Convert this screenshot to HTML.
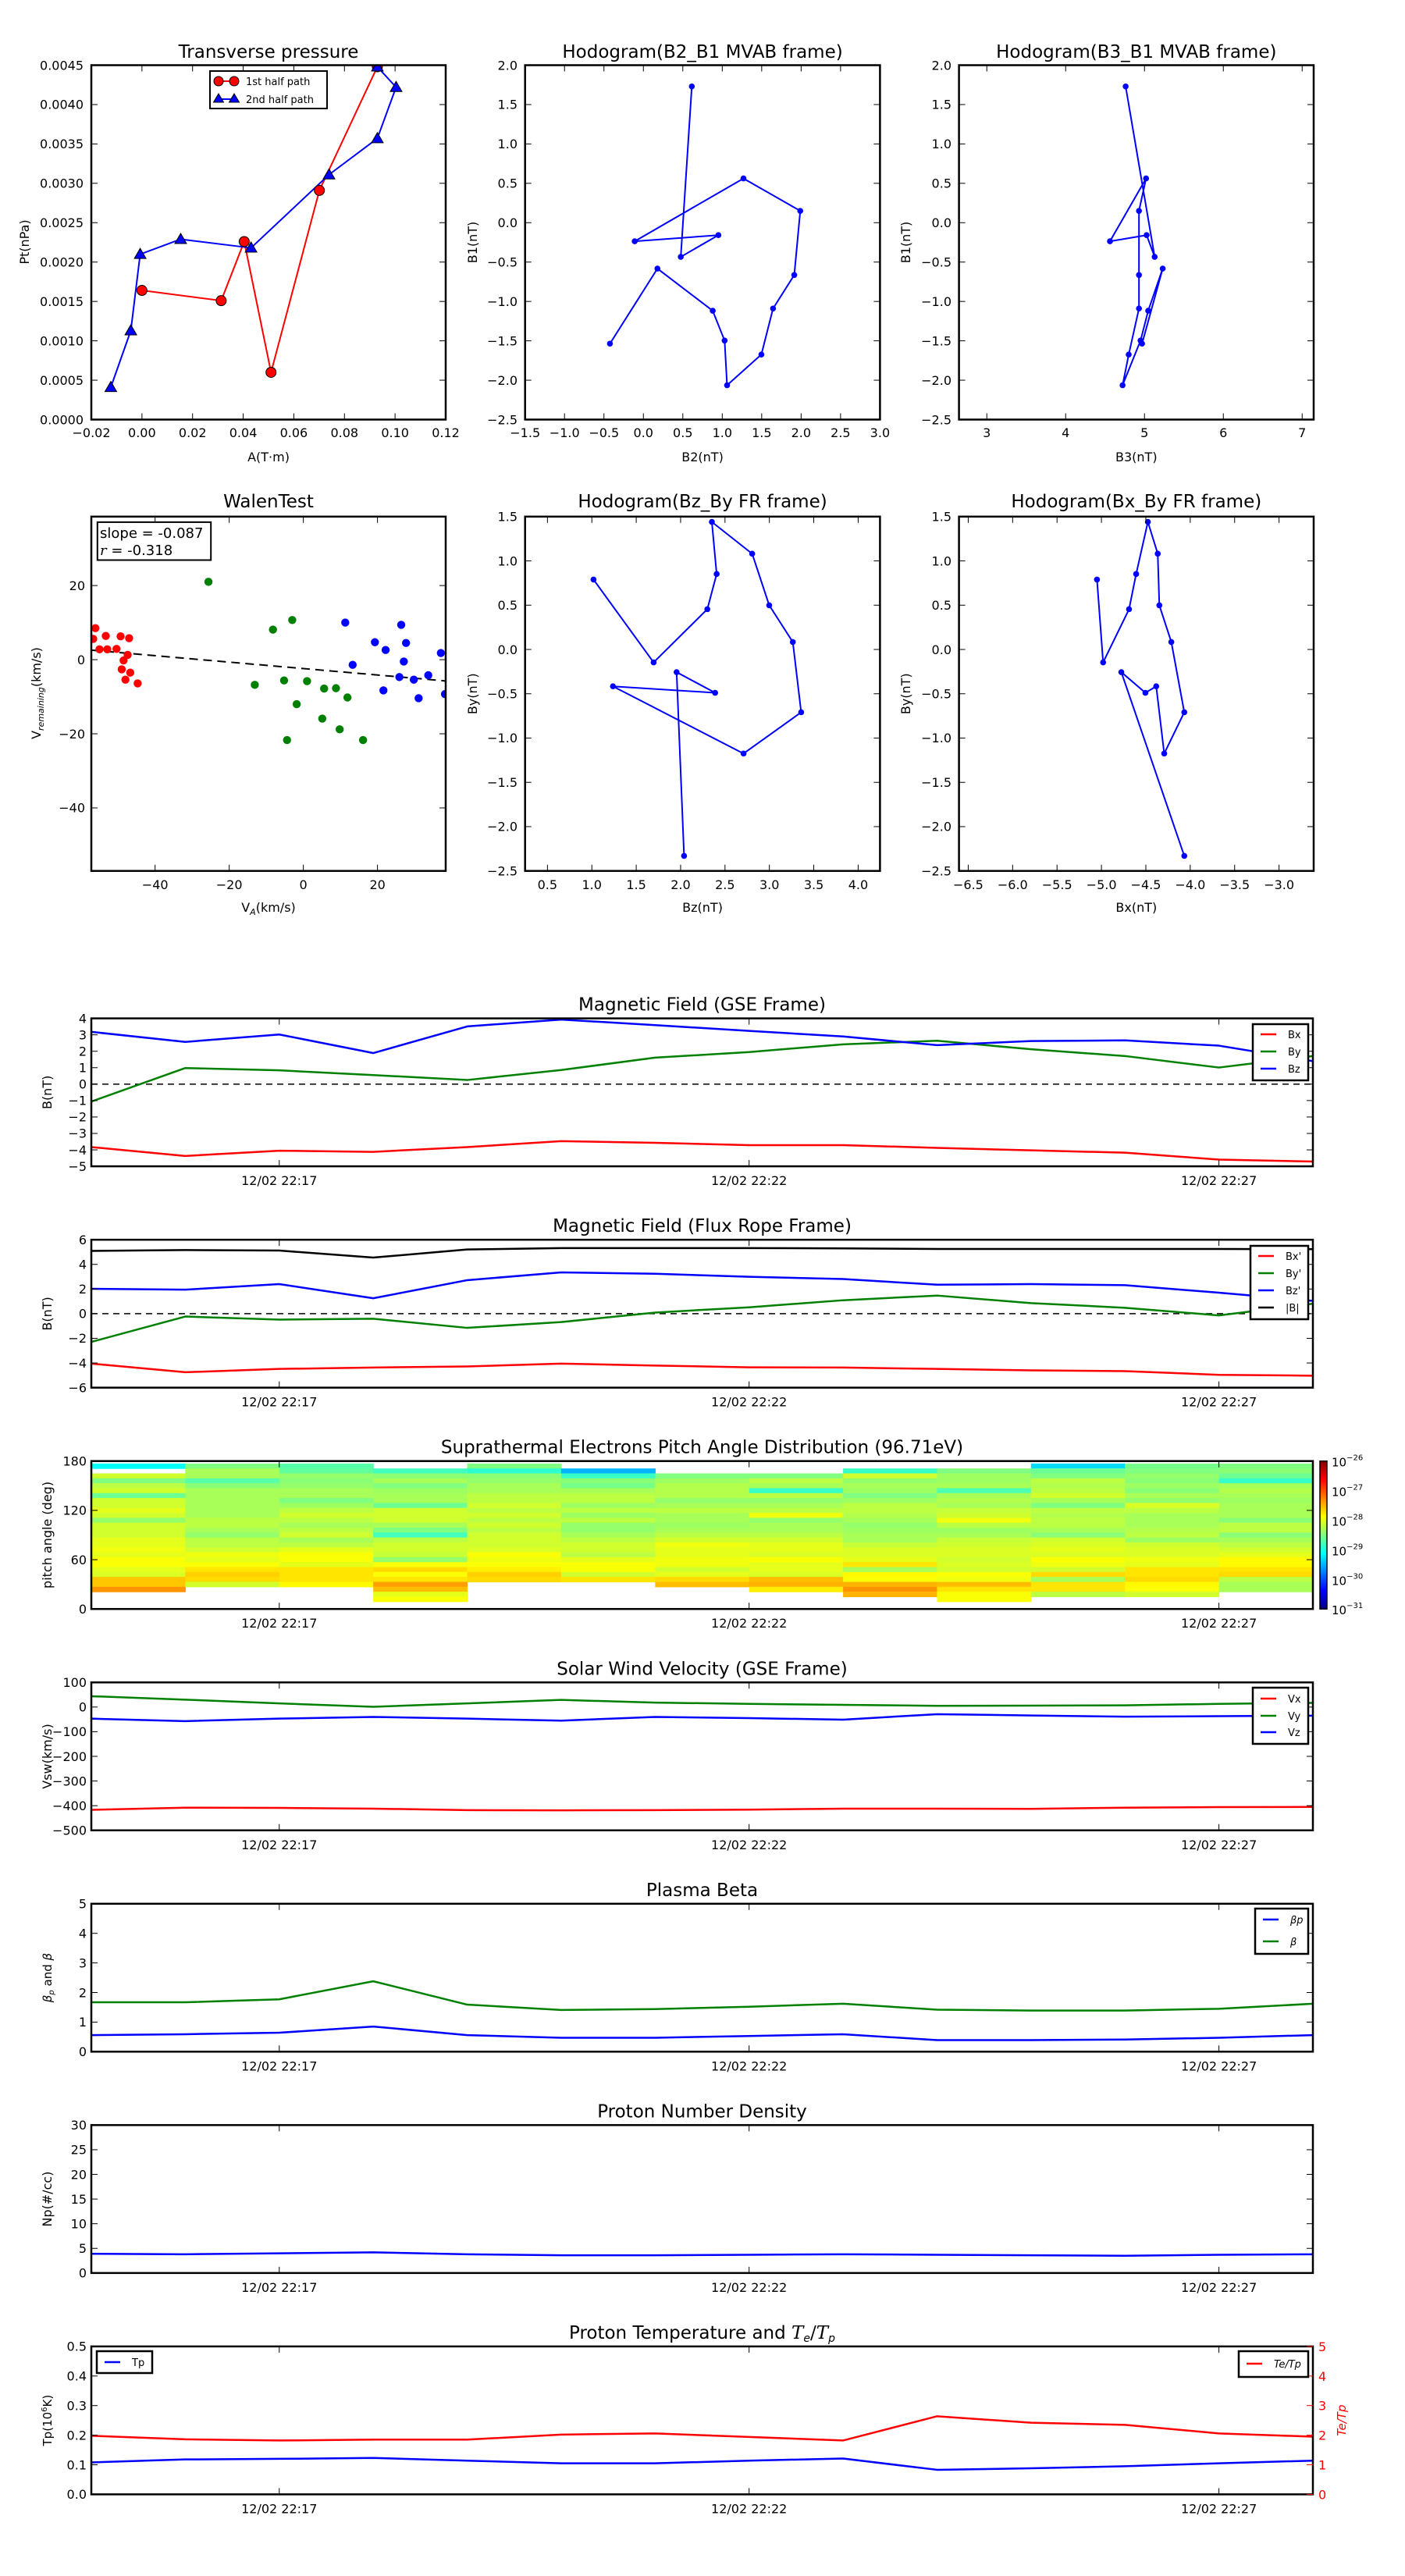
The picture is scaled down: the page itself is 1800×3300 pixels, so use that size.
<!DOCTYPE html>
<html><head><meta charset="utf-8"><title>Flux rope analysis</title>
<style>
html,body{margin:0;padding:0;background:#fff;}
svg{display:block;font-family:"DejaVu Sans","Liberation Sans",sans-serif;}
</style></head>
<body>
<svg id="fig" xmlns="http://www.w3.org/2000/svg" width="1800" height="3300" viewBox="0 0 1800 3300">
<defs>
<linearGradient id="jetgrad" x1="0" y1="1" x2="0" y2="0">
<stop offset="0" stop-color="#000080"/><stop offset="0.125" stop-color="#0000ff"/>
<stop offset="0.375" stop-color="#00ffff"/><stop offset="0.625" stop-color="#ffff00"/>
<stop offset="0.875" stop-color="#ff0000"/><stop offset="1" stop-color="#800000"/>
</linearGradient>
</defs>
</svg>
<script>
// ---------- Transverse pressure ----------
const tp1A=[0.0,0.0313,0.0404,0.051,0.0701,0.093];
const tp1P=[0.00164,0.00151,0.00226,0.0006,0.00291,0.00448];
const tp2A=[0.093,0.1004,0.093,0.0739,0.0431,0.0153,-0.0007,-0.0044,-0.0123];
const tp2P=[0.00448,0.00422,0.00357,0.00311,0.00218,0.00229,0.0021,0.00113,0.00041];
const tpXTicks=[-0.02,0,0.02,0.04,0.06,0.08,0.10,0.12];
const tpXLabels=["\u22120.02","0.00","0.02","0.04","0.06","0.08","0.10","0.12"];
const tpYTicks=[0,0.0005,0.001,0.0015,0.002,0.0025,0.003,0.0035,0.004,0.0045];
const tpYLabels=["0.0000","0.0005","0.0010","0.0015","0.0020","0.0025","0.0030","0.0035","0.0040","0.0045"];
// ---------- MVAB hodograms ----------
const mvB1=[1.73,-0.434,-0.158,-0.236,0.562,0.150,-0.664,-1.09,-1.674,-2.064,-1.497,-1.118,-0.583,-1.536];
const mvB2=[0.614,0.474,0.951,-0.110,1.269,1.989,1.913,1.644,1.496,1.061,1.030,0.879,0.178,-0.424];
const mvB3=[4.761,5.129,5.027,4.562,5.020,4.930,4.930,4.930,4.800,4.722,4.950,5.047,5.231,4.969];
// ---------- Walen test ----------
const walRedX=[-56.1,-56.7,-53.3,-55.0,-52.9,-50.4,-49.3,-47.0,-47.4,-48.5,-49.0,-46.7,-48.0,-44.7];
const walRedY=[8.5,5.6,6.4,2.8,2.8,2.9,6.3,5.8,1.3,-0.2,-2.6,-3.5,-5.4,-6.4];
const walGreenX=[-25.6,-8.2,-3.0,-13.1,-5.2,1.0,5.6,8.8,-1.8,11.9,5.1,9.8,-4.4,16.1];
const walGreenY=[21.0,8.1,10.7,-6.8,-5.6,-5.8,-7.8,-7.7,-12.0,-10.2,-15.9,-18.8,-21.7,-21.7];
const walBlueX=[11.3,13.3,19.3,22.2,21.6,26.4,27.7,27.1,25.9,29.8,31.1,33.7,37.1,38.2];
const walBlueY=[10.0,-1.4,4.7,2.6,-8.3,9.4,4.5,-0.5,-4.7,-5.4,-10.4,-4.2,1.8,-9.3];
const walSlope=-0.087;
const walIntercept=-2.4;
// ---------- FR hodograms ----------
const frBy=[0.789,-0.146,0.455,0.852,1.44,1.081,0.499,0.084,-0.709,-1.175,-0.416,-0.489,-0.256,-2.33];
const frBz=[1.019,1.696,2.301,2.406,2.352,2.806,2.998,3.264,3.358,2.709,1.238,2.389,1.955,2.039];
const frBx=[-5.05,-4.981,-4.689,-4.609,-4.477,-4.366,-4.348,-4.213,-4.067,-4.293,-4.383,-4.505,-4.776,-4.067];
// ---------- time series (minutes after 22:15) ----------
const tMin=[0,1,2,3,4,5,6,7,8,9,10,11,12,13];
const timeTickMin=[2,7,12];
const timeTickLabels=["12/02 22:17","12/02 22:22","12/02 22:27"];
const gseBx=[-3.83,-4.37,-4.05,-4.12,-3.83,-3.47,-3.57,-3.71,-3.71,-3.88,-4.03,-4.17,-4.59,-4.71];
const gseBy=[-1.06,0.98,0.84,0.55,0.25,0.86,1.61,1.95,2.42,2.64,2.12,1.71,1.01,1.71];
const gseBz=[3.18,2.57,3.02,1.89,3.51,3.93,3.59,3.24,2.90,2.37,2.62,2.66,2.34,1.40];
const frsBx=[-4.05,-4.75,-4.48,-4.37,-4.28,-4.05,-4.21,-4.35,-4.37,-4.48,-4.60,-4.66,-4.96,-5.03];
const frsBy=[-2.29,-0.23,-0.48,-0.41,-1.15,-0.68,0.09,0.52,1.09,1.47,0.86,0.48,-0.14,0.81];
const frsBz=[2.02,1.95,2.40,1.25,2.72,3.35,3.24,2.99,2.81,2.35,2.40,2.31,1.70,1.04];
const frsBt=[5.09,5.16,5.12,4.55,5.21,5.32,5.32,5.32,5.30,5.25,5.25,5.25,5.25,5.23];
const padPitch=[174,168,162,156,150,144,138,132,126,120,114,108,102,96,90,84,78,72,66,60,54,48,42,36,30,24,18,12];
const padLog=[
[-29.1,null,-28.1,-28.5,-28.2,-28.1,-28.6,-28.1,-28.1,-28.0,-28.1,-28.4,-28.1,-28.1,-28.1,-28.0,-28.0,-27.95,-28.0,-27.9,-27.9,-28.0,-28.05,-27.6,-27.6,-27.35,null,null],
[-28.5,-28.3,-28.3,-28.7,-28.45,-28.3,-28.3,-28.3,-28.3,-28.3,-28.3,-28.2,-28.2,-28.3,-28.4,-28.2,-28.2,-28.1,-27.95,-28.0,-27.9,-27.75,-27.65,-27.7,-28.1,null,null,null],
[-28.7,-28.65,-28.4,-28.45,-28.4,-28.3,-28.3,-28.5,-28.35,-28.2,-28.1,-28.2,-28.3,-28.2,-28.1,-28.3,-28.2,-28.0,-27.9,-27.9,-28.0,-27.75,-27.75,-27.75,-27.85,null,null,null],
[null,-28.8,-28.45,-28.3,-28.5,-28.35,-28.3,-28.3,-28.6,-28.1,-28.1,-28.1,-28.3,-28.5,-28.8,-28.2,-28.1,-28.1,-28.15,-28.4,-27.9,-27.7,-27.9,-27.75,-27.4,-27.55,-28.0,-27.9],
[-28.5,-28.9,-28.45,-28.4,-28.3,-28.3,-28.2,-28.2,-28.1,-28.2,-28.1,-28.2,-28.1,-28.2,-28.1,-28.1,-28.1,-28.05,-27.9,-27.95,-27.9,-27.8,-27.65,-27.7,null,null,null,null],
[null,-29.5,-28.85,-28.45,-28.55,-28.3,-28.2,-28.2,-28.35,-28.2,-28.35,-28.2,-28.4,-28.4,-28.3,-28.2,-28.1,-28.1,-28.2,-28.0,-27.9,-27.9,-28.1,-27.75,null,null,null,null],
[null,null,-28.5,-28.35,-28.25,-28.25,-28.25,-28.4,-28.3,-28.2,-28.3,-28.3,-28.35,-28.3,-28.2,-28.1,-27.95,-28.0,-28.0,-27.95,-27.95,-28.1,-28.0,-27.7,-27.55,null,null,null],
[null,null,-28.5,-28.2,-28.3,-28.85,-28.2,-28.4,-28.3,-28.2,-27.95,-28.4,-28.3,-28.3,-28.2,-28.1,-28.0,-28.0,-28.05,-27.9,-28.0,-28.0,-28.05,-27.55,-27.5,-27.8,null,null],
[null,-28.85,-28.1,-28.4,-28.3,-28.35,-28.5,-28.35,-28.2,-28.2,-28.25,-28.3,-28.4,-28.35,-28.3,-28.3,-28.15,-28.05,-28.05,-28.0,-27.75,-28.3,-27.85,-27.9,-27.5,-27.35,-27.5,null],
[null,-28.5,-28.35,-28.35,-28.3,-28.75,-28.3,-28.25,-28.3,-28.15,-28.1,-27.95,-28.2,-28.35,-28.3,-28.15,-28.1,-28.05,-28.05,-28.1,-28.05,-28.1,-27.9,-27.95,-27.55,-27.75,-27.9,-27.9],
[-29.3,-28.6,-28.5,-28.2,-28.25,-28.2,-28.1,-28.3,-28.5,-28.2,-28.25,-28.2,-28.2,-28.3,-28.45,-28.1,-28.05,-28.0,-28.05,-27.9,-27.95,-28.1,-27.7,-28.3,-27.75,-27.75,-28.2,null],
[-28.55,-28.5,-28.4,-28.45,-28.35,-28.45,-28.3,-28.4,-28.05,-28.2,-28.3,-28.3,-28.3,-28.25,-28.2,-28.35,-28.1,-28.05,-28.05,-27.95,-28.0,-27.75,-27.75,-27.7,-27.85,-27.9,-28.1,null],
[-28.5,-28.45,-28.6,-28.85,-28.3,-28.25,-28.3,-28.35,-28.3,-28.3,-28.3,-28.45,-28.2,-28.2,-28.45,-28.3,-28.2,-28.1,-28.0,-27.85,-27.85,-27.75,-27.7,-28.2,-28.3,-28.3,null,null]
];
const padCbarExp=["-26","-27","-28","-29","-30","-31"];
const vswVx=[-417,-408,-409,-412,-418,-419,-418,-416,-412,-412,-413,-408,-406,-405];
const vswVy=[44,30,15,1,15,29,18,13,9,5,6,7,13,17];
const vswVz=[-47,-57,-47,-40,-47,-55,-40,-45,-51,-29,-34,-39,-37,-35];
const betaP=[0.56,0.59,0.64,0.85,0.56,0.47,0.47,0.53,0.59,0.39,0.39,0.41,0.47,0.56];
const betaT=[1.67,1.67,1.77,2.38,1.59,1.41,1.44,1.52,1.62,1.42,1.39,1.39,1.45,1.62];
const npDens=[3.9,3.8,4.0,4.2,3.8,3.6,3.6,3.7,3.8,3.7,3.6,3.5,3.7,3.8];
const tpTemp=[0.108,0.118,0.120,0.123,0.114,0.105,0.105,0.114,0.121,0.083,0.088,0.095,0.105,0.114];
const teTp=[1.98,1.86,1.82,1.85,1.85,2.02,2.06,1.94,1.82,2.64,2.42,2.35,2.06,1.95];

const NS="http://www.w3.org/2000/svg";
const svg=document.getElementById("fig");
function mk(parent,tag,attrs,name,inter){
  const e=document.createElementNS(NS,tag);
  for(const k in attrs) e.setAttribute(k,attrs[k]);
  
  
  parent.appendChild(e);return e;
}
function lin(d0,d1,p0,p1){return v=>p0+(v-d0)/(d1-d0)*(p1-p0);}
function tx(parent,x,y,str,size,anchor,name,extra){
  const a={x:x,y:y,"font-size":size,"text-anchor":anchor||"middle",fill:"#000"};
  if(extra) for(const k in extra) a[k]=extra[k];
  const t=mk(parent,"text",a,name,false);t.textContent=str;return t;
}
let clipN=0;
function axes(name,x0,x1,y0,y1,xd,yd){
  const g=mk(svg,"g",{},name,false);
  const id="clip"+(clipN++);
  const cp=mk(svg.querySelector("defs"),"clipPath",{id:id},name+"-clip",false);
  mk(cp,"rect",{x:x0,y:y0,width:x1-x0,height:y1-y0},name+"-clip-rect",false);
  const plot=mk(g,"g",{"clip-path":"url(#"+id+")"},name+"-plot-area",false);
  return {g:g,plot:plot,x0:x0,x1:x1,y0:y0,y1:y1,sx:lin(xd[0],xd[1],x0,x1),sy:lin(yd[0],yd[1],y1,y0)};
}
function frame(A,name){mk(A.g,"rect",{x:A.x0,y:A.y0,width:A.x1-A.x0,height:A.y1-A.y0,fill:"none",stroke:"#000","stroke-width":2.5},name,false);}
function xticks(A,vals,labels,ly,size,name){
  vals.forEach((v,i)=>{const p=A.sx(v);
    mk(A.g,"line",{x1:p,y1:A.y1,x2:p,y2:A.y1-8,stroke:"#000","stroke-width":1},name+"-tick",false);
    mk(A.g,"line",{x1:p,y1:A.y0,x2:p,y2:A.y0+8,stroke:"#000","stroke-width":1},name+"-tick-top",false);
    if(labels) tx(A.g,p,ly,labels[i],size,"middle",name+"-label");});
}
function yticks(A,vals,labels,lx,size,name,right){
  vals.forEach((v,i)=>{const p=A.sy(v);
    mk(A.g,"line",{x1:A.x0,y1:p,x2:A.x0+8,y2:p,stroke:"#000","stroke-width":1},name+"-tick",false);
    if(!right) mk(A.g,"line",{x1:A.x1,y1:p,x2:A.x1-8,y2:p,stroke:"#000","stroke-width":1},name+"-tick-right",false);
    if(labels) tx(A.g,lx,p+size*0.36,labels[i],size,"end",name+"-label");});
}
function path(A,xs,ys,color,w,name,dash){
  const d=xs.map((x,i)=>(i?"L":"M")+A.sx(x).toFixed(2)+","+A.sy(ys[i]).toFixed(2)).join(" ");
  const a={d:d,fill:"none",stroke:color,"stroke-width":w,"stroke-linejoin":"round"};
  if(dash) a["stroke-dasharray"]=dash;
  return mk(A.plot,"path",a,name,false);
}
function dots(A,xs,ys,color,r,name,stroke){
  xs.forEach((x,i)=>{const a={cx:A.sx(x),cy:A.sy(ys[i]),r:r,fill:color};
    if(stroke){a.stroke=stroke;a["stroke-width"]=1;}
    mk(A.plot,"circle",a,name,false);});
}
function ylab(parent,x,y,str,size,name,fill){
  return tx(parent,0,0,str,size,"middle",name,{transform:"translate("+x+","+y+") rotate(-90)",fill:fill||"#000"});
}
const lab=n=>n.toFixed(1).replace("-","\u2212");
const seq=(a,b,s)=>{const r=[];for(let v=a;v<=b+1e-9;v+=s)r.push(+v.toFixed(6));return r;};

// ===== Panel 1: Transverse pressure =====
(function(){
  const A=axes("transverse-pressure-chart",117,571,83.5,537.5,[-0.02,0.12],[0,0.0045]);
  tx(svg,344,74,"Transverse pressure",23,"middle","transverse-pressure-title");
  path(A,tp1A,tp1P,"#ff0000",2,"first-half-path-line");
  path(A,tp2A,tp2P,"#0000ff",2,"second-half-path-line");
  dots(A,tp1A,tp1P,"#ff0000",6.5,"first-half-marker","#000");
  tp2A.forEach((x,i)=>{const px=A.sx(x),py=A.sy(tp2P[i]);
    mk(A.plot,"path",{d:`M${px},${py-7.5} L${px+7.5},${py+5.5} L${px-7.5},${py+5.5} Z`,fill:"#0000ff",stroke:"#000","stroke-width":1},"second-half-marker",false);});
  frame(A,"transverse-pressure-frame");
  xticks(A,tpXTicks,tpXLabels,560,16,"x-tick");
  yticks(A,tpYTicks,tpYLabels,107,16,"y-tick");
  tx(svg,344,591,"A(T\u00b7m)",16,"middle","x-axis-title");
  ylab(svg,37,310,"Pt(nPa)",16,"y-axis-title");
  const L=mk(svg,"g",{},"transverse-pressure-legend",false);
  mk(L,"rect",{x:269,y:91,width:150,height:48,fill:"#fff",stroke:"#000","stroke-width":2},"legend-box",false);
  mk(L,"line",{x1:280,y1:104,x2:300,y2:104,stroke:"#ff0000","stroke-width":2},"legend-line-1st",false);
  mk(L,"circle",{cx:280,cy:104,r:6,fill:"#ff0000",stroke:"#000","stroke-width":1},"legend-marker-1st",false);
  mk(L,"circle",{cx:300,cy:104,r:6,fill:"#ff0000",stroke:"#000","stroke-width":1},"legend-marker-1st",false);
  tx(L,315,109,"1st half path",13,"start","legend-label-1st");
  mk(L,"line",{x1:280,y1:127,x2:300,y2:127,stroke:"#0000ff","stroke-width":2},"legend-line-2nd",false);
  mk(L,"path",{d:"M280,120 L286.5,131 L273.5,131 Z",fill:"#0000ff",stroke:"#000","stroke-width":1},"legend-marker-2nd",false);
  mk(L,"path",{d:"M300,120 L306.5,131 L293.5,131 Z",fill:"#0000ff",stroke:"#000","stroke-width":1},"legend-marker-2nd",false);
  tx(L,315,132,"2nd half path",13,"start","legend-label-2nd");
})();

// ===== Hodogram helper =====
function hodo(name,title,x0,x1,y0,y1,xd,yd,xs,ys,xt,yt,xl,yl,titleY,xlY,tickY,ylX,ytX){
  const A=axes(name,x0,x1,y0,y1,xd,yd);
  tx(svg,(x0+x1)/2,titleY,title,23,"middle",name+"-title");
  path(A,xs,ys,"#0000ff",2,name+"-path");
  dots(A,xs,ys,"#0000ff",3.8,name+"-point");
  frame(A,name+"-frame");
  xticks(A,xt,xt.map(v=>Number.isInteger(v)&&xd[1]-xd[0]>4.4&&xt[1]-xt[0]===1?String(v):lab(v)),tickY,16,name+"-x-tick");
  yticks(A,yt,yt.map(lab),ytX,16,name+"-y-tick");
  tx(svg,(x0+x1)/2,xlY,xl,16,"middle",name+"-x-axis-title");
  ylab(svg,ylX,(y0+y1)/2,yl,16,name+"-y-axis-title");
}
hodo("hodogram-b2-b1","Hodogram(B2_B1 MVAB frame)",672.7,1127.4,83.5,537.5,[-1.5,3],[-2.5,2],mvB2,mvB1,seq(-1.5,3,0.5),seq(-2.5,2,0.5),"B2(nT)","B1(nT)",74,591,560,611,663);
hodo("hodogram-b3-b1","Hodogram(B3_B1 MVAB frame)",1228.6,1683,83.5,537.5,[2.647,7.146],[-2.5,2],mvB3,mvB1,[3,4,5,6,7],seq(-2.5,2,0.5),"B3(nT)","B1(nT)",74,591,560,1166,1219);
hodo("hodogram-bz-by","Hodogram(Bz_By FR frame)",672.7,1127.4,661.8,1115.7,[0.248,4.246],[-2.5,1.5],frBz,frBy,seq(0.5,4,0.5),seq(-2.5,1.5,0.5),"Bz(nT)","By(nT)",650,1168,1139,611,663);
hodo("hodogram-bx-by","Hodogram(Bx_By FR frame)",1228.6,1683,661.8,1115.7,[-6.604,-2.61],[-2.5,1.5],frBx,frBy,seq(-6.5,-3,0.5),seq(-2.5,1.5,0.5),"Bx(nT)","By(nT)",650,1168,1139,1166,1219);

// ===== Walen test =====
(function(){
  const A=axes("walen-test-chart",117,571,661.8,1115.7,[-57.2,38.4],[-57,38.6]);
  tx(svg,344,650,"WalenTest",23,"middle","walen-test-title");
  const lx=[-57.2,38.4];
  path(A,lx,lx.map(v=>walSlope*v+walIntercept),"#000",2,"walen-fit-line","11,7");
  dots(A,walRedX,walRedY,"#ff0000",5.2,"walen-point-red");
  dots(A,walGreenX,walGreenY,"#008000",5.2,"walen-point-green");
  dots(A,walBlueX,walBlueY,"#0000ff",5.2,"walen-point-blue");
  frame(A,"walen-frame");
  xticks(A,[-40,-20,0,20],["\u221240","\u221220","0","20"],1139,16,"walen-x-tick");
  yticks(A,[-40,-20,0,20],["\u221240","\u221220","0","20"],109,16,"walen-y-tick");
  const xt=tx(svg,344,1168,"V",16,"middle","walen-x-axis-title");
  const s1=mk(xt,"tspan",{"font-size":11,dy:4,"font-style":"italic"},"subscript",false);s1.textContent="A";
  const s2=mk(xt,"tspan",{dy:-4},"unit",false);s2.textContent="(km/s)";
  const yt=ylab(svg,52,888,"V",16,"walen-y-axis-title");
  const s3=mk(yt,"tspan",{"font-size":11,dy:4,"font-style":"italic"},"subscript",false);s3.textContent="remaining";
  const s4=mk(yt,"tspan",{dy:-4},"unit",false);s4.textContent="(km/s)";
  mk(svg,"rect",{x:124.8,y:668.9,width:145.4,height:48.6,fill:"#fff",stroke:"#000","stroke-width":2},"walen-stats-box",false);
  tx(svg,128,689,"slope = -0.087",18,"start","walen-slope-text");
  const r=tx(svg,128,711,"",18,"start","walen-r-text");
  const ri=mk(r,"tspan",{"font-style":"italic","font-family":"DejaVu Serif, serif"},"r-symbol",false);ri.textContent="r";
  const rv=mk(r,"tspan",{},"r-value",false);rv.textContent=" = -0.318";
})();

// ===== Time series panels =====
const tsX0=117,tsX1=1682,tsH=189.5;
function tsTop(k){return 1304.6+283.55*k;}
function tsAxes(k,name,title,yd,yt,ylabels,ylabel){
  const y0=tsTop(k);
  const A=axes(name,tsX0,tsX1,y0,y0+tsH,[0,13],yd);
  if(title) tx(svg,(tsX0+tsX1)/2,y0-10,title,23,"middle",name+"-title");
  A.finish=function(){
    frame(A,name+"-frame");
    xticks(A,timeTickMin,timeTickLabels,y0+tsH+24,16,name+"-time-tick");
    yticks(A,yt,ylabels,111,16,name+"-y-tick");
    if(ylabel) ylab(svg,66,y0+tsH/2,ylabel,16,name+"-y-axis-title");
  };
  return A;
}
function legend(A,x0,y0,w,h,items,name){
  const L=mk(A.g,"g",{},name,false);
  mk(L,"rect",{x:x0,y:y0,width:w,height:h,fill:"#fff",stroke:"#000","stroke-width":2.5},name+"-box",false);
  items.forEach(it=>{
    mk(L,"line",{x1:x0+10,y1:it[2],x2:x0+30,y2:it[2],stroke:it[1],"stroke-width":2.5},name+"-swatch",false);
    const t=tx(L,x0+45,it[2]+5,it[0],13,"start",name+"-label");
    if(it[3]) t.setAttribute("font-style","italic");
  });
}
const minus=v=>String(v).replace("-","\u2212");
// GSE
(function(){
  const A=tsAxes(0,"magnetic-field-gse-chart","Magnetic Field (GSE Frame)",[-5,4],seq(-5,4,1),seq(-5,4,1).map(minus),"B(nT)");
  path(A,[0,13],[0,0],"#000",1.5,"zero-line","8,6");
  path(A,tMin,gseBx,"#ff0000",2.5,"bx-line");
  path(A,tMin,gseBy,"#008000",2.5,"by-line");
  path(A,tMin,gseBz,"#0000ff",2.5,"bz-line");
  A.finish();
  legend(A,1605,1312,71,72,[["Bx","#ff0000",1325],["By","#008000",1347],["Bz","#0000ff",1369]],"gse-legend");
})();
// Flux rope
(function(){
  const A=tsAxes(1,"magnetic-field-fr-chart","Magnetic Field (Flux Rope Frame)",[-6,6],seq(-6,6,2),seq(-6,6,2).map(minus),"B(nT)");
  path(A,[0,13],[0,0],"#000",1.5,"zero-line","8,6");
  path(A,tMin,frsBx,"#ff0000",2.5,"bx-prime-line");
  path(A,tMin,frsBy,"#008000",2.5,"by-prime-line");
  path(A,tMin,frsBz,"#0000ff",2.5,"bz-prime-line");
  path(A,tMin,frsBt,"#000000",2.5,"b-total-line");
  A.finish();
  legend(A,1602,1596,74,94,[["Bx'","#ff0000",1609],["By'","#008000",1631],["Bz'","#0000ff",1653],["|B|","#000",1675]],"fr-legend");
})();
// PAD
(function(){
  const A=tsAxes(2,"pitch-angle-chart","Suprathermal Electrons Pitch Angle Distribution (96.71eV)",[0,180],[0,60,120,180],["0","60","120","180"],"pitch angle (deg)");
  function jet(x){const c=v=>Math.round(255*Math.max(0,Math.min(1,v)));
    return `rgb(${c(1.5-Math.abs(4*x-3))},${c(1.5-Math.abs(4*x-2))},${c(1.5-Math.abs(4*x-1))})`;}
  padLog.forEach((col,ci)=>{
    col.forEach((v,ri)=>{
      if(v===null) return;
      const p=padPitch[ri];
      const xa=A.sx(tMin[ci]),xb=A.sx(tMin[ci+1]);
      const ya=A.sy(p+3),yb=A.sy(p-3);
      const cell=mk(A.plot,"rect",{x:xa.toFixed(2),y:ya.toFixed(2),width:(xb-xa+0.6).toFixed(2),height:(yb-ya+0.6).toFixed(2),fill:jet((v+31)/5)},"pad-cell",false);
    });
  });
  A.finish();
  const cb=mk(svg,"g",{},"pad-colorbar",false);
  const cy0=tsTop(2),cy1=tsTop(2)+tsH;
  mk(cb,"rect",{x:1691,y:cy0,width:9,height:tsH,fill:"url(#jetgrad)",stroke:"#000","stroke-width":1.5},"colorbar-gradient",false);
  padCbarExp.forEach((e,i)=>{
    const y=cy0+i*tsH/5;
    const t=tx(cb,1706,y+7,"10",15,"start","colorbar-tick-label");
    const s=mk(t,"tspan",{"font-size":10,dy:-8},"exponent",false);s.textContent=e.replace("-","\u2212");
  });
})();
// Solar wind velocity
(function(){
  const A=tsAxes(3,"solar-wind-velocity-chart","Solar Wind Velocity (GSE Frame)",[-500,100],seq(-500,100,100),seq(-500,100,100).map(minus),"Vsw(km/s)");
  path(A,tMin,vswVx,"#ff0000",2.5,"vx-line");
  path(A,tMin,vswVy,"#008000",2.5,"vy-line");
  path(A,tMin,vswVz,"#0000ff",2.5,"vz-line");
  A.finish();
  legend(A,1605,2162,71,72,[["Vx","#ff0000",2176],["Vy","#008000",2198],["Vz","#0000ff",2219]],"velocity-legend");
})();
// Plasma beta
(function(){
  const A=tsAxes(4,"plasma-beta-chart","Plasma Beta",[0,5],seq(0,5,1),seq(0,5,1).map(String),null);
  path(A,tMin,betaP,"#0000ff",2.5,"beta-p-line");
  path(A,tMin,betaT,"#008000",2.5,"beta-line");
  A.finish();
  const yl=ylab(svg,66,tsTop(4)+tsH/2,"",15,"plasma-beta-y-axis-title");
  const a=mk(yl,"tspan",{"font-style":"italic"},"beta-p-symbol",false);a.textContent="\u03b2";
  const b=mk(yl,"tspan",{"font-size":10,dy:3,"font-style":"italic"},"subscript",false);b.textContent="p";
  const c=mk(yl,"tspan",{dy:-3},"and",false);c.textContent=" and ";
  const d=mk(yl,"tspan",{"font-style":"italic"},"beta-symbol",false);d.textContent="\u03b2";
  legend(A,1608,2445,68,58,[["\u03b2p","#0000ff",2459,true],["\u03b2","#008000",2487,true]],"beta-legend");
})();
// Density
(function(){
  const A=tsAxes(5,"proton-density-chart","Proton Number Density",[0,30],seq(0,30,5),seq(0,30,5).map(String),"Np(#/cc)");
  path(A,tMin,npDens,"#0000ff",2.5,"density-line");
  A.finish();
})();
// Temperature
(function(){
  const y0=tsTop(6);
  const A=tsAxes(6,"proton-temperature-chart",null,[0,0.5],seq(0,0.5,0.1),seq(0,0.5,0.1).map(v=>v.toFixed(1)),null);
  const t=tx(svg,(tsX0+tsX1)/2,y0-10,"Proton Temperature and ",23,"middle","proton-temperature-title");
  const s1=mk(t,"tspan",{"font-style":"italic","font-family":"DejaVu Serif, serif"},"te-symbol",false);s1.textContent="T";
  const s2=mk(t,"tspan",{"font-size":14,dy:4,"font-style":"italic"},"subscript-e",false);s2.textContent="e";
  const s3=mk(t,"tspan",{dy:-4,"font-family":"DejaVu Serif, serif"},"slash",false);s3.textContent="/";
  const s4=mk(t,"tspan",{"font-style":"italic","font-family":"DejaVu Serif, serif"},"tp-symbol",false);s4.textContent="T";
  const s5=mk(t,"tspan",{"font-size":14,dy:4,"font-style":"italic"},"subscript-p",false);s5.textContent="p";
  path(A,tMin,tpTemp,"#0000ff",2.5,"tp-line");
  const syR=lin(0,5,y0+tsH,y0);
  const d=tMin.map((m,i)=>(i?"L":"M")+A.sx(m).toFixed(2)+","+syR(teTp[i]).toFixed(2)).join(" ");
  mk(A.plot,"path",{d:d,fill:"none",stroke:"#ff0000","stroke-width":2.5},"te-tp-ratio-line",false);
  frame(A,"proton-temperature-frame");
  xticks(A,timeTickMin,timeTickLabels,y0+tsH+24,16,"temperature-time-tick");
  yticks(A,seq(0,0.5,0.1),seq(0,0.5,0.1).map(v=>v.toFixed(1)),111,16,"tp-y-tick",true);
  [0,1,2,3,4,5].forEach(v=>{const p=syR(v);
    mk(A.g,"line",{x1:tsX1,y1:p,x2:tsX1-8,y2:p,stroke:"#ff0000","stroke-width":1},"ratio-y-tick",false);
    tx(A.g,1689,p+6,String(v),16,"start","ratio-y-tick-label",{fill:"#ff0000"});});
  const yl=ylab(svg,66,y0+tsH/2,"Tp(10",15,"tp-y-axis-title");
  const e=mk(yl,"tspan",{"font-size":10,dy:-6},"exponent",false);e.textContent="6";
  const k=mk(yl,"tspan",{dy:6},"unit",false);k.textContent="K)";
  const yr=ylab(svg,1724,y0+tsH/2,"Te/Tp",15,"ratio-y-axis-title","#ff0000");
  yr.setAttribute("font-style","italic");
  legend(A,124,3012,71,28,[["Tp","#0000ff",3026]],"tp-legend");
  legend(A,1587,3012,89,33,[["Te/Tp","#ff0000",3028,true]],"ratio-legend");
})();
</script>
</body></html>
